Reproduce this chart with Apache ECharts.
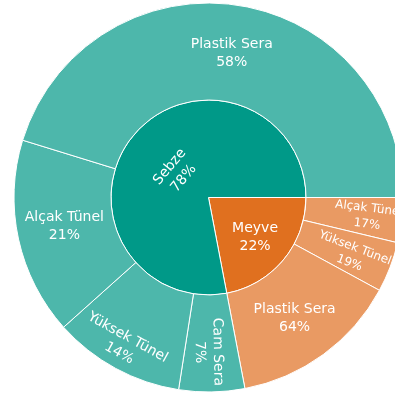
<!DOCTYPE html>
<html>
<head>
<meta charset="utf-8">
<script src="https://cdn.jsdelivr.net/npm/echarts@6/dist/echarts.min.js"></script>
<style>
  html, body { margin: 0; padding: 0; background: #ffffff; }
  #chart { width: 395px; height: 397px; }
</style>
</head>
<body>
<div id="chart"></div>
<script>
// Main groups and their shares (%)
const groups = ['Meyve', 'Sebze'];
const groupShares = [22, 78];

// Sub-categories per group, with share of their parent group (%)
const meyveCats = ['Alçak Tünel', 'Yüksek Tünel', 'Plastik Sera'];
const meyveShares = [17, 19, 64];
const sebzeCats = ['Cam Sera', 'Yüksek Tünel', 'Alçak Tünel', 'Plastik Sera'];
const sebzeShares = [7, 14, 21, 58];

// Label rotation (degrees) for each slice
const groupRotate = [0, 50];
const meyveRotate = [-7, -21, 0];
const sebzeRotate = [-89, -29, 0, 0];

// Label nudges in the label's own frame: [dx, dy] in px
const groupNudge = [[9, 8.5], [-1, 8.5]];
const meyveNudge = [[14.5, 0], [9, 2.7], [0, 3]];
const sebzeNudge = [[8.5, 2.5], [-4, 24.6], [-1.5, -2.2], [1.5, 0]];

const groupColors = ['#E0701F', '#009988'];
const childColors = ['#E99A63', '#4DB7AB'];

const childCats = [meyveCats, sebzeCats];
const childShares = [meyveShares, sebzeShares];
const childRotate = [meyveRotate, sebzeRotate];
const childNudge = [meyveNudge, sebzeNudge];

// Horizontal nudge via side padding, vertical nudge via a spacer line
function labelFor(rotate, nudge, size) {
  const dx = nudge[0], dy = nudge[1];
  return {
    rotate: rotate,
    fontSize: size,
    lineHeight: size + 4,
    padding: [0, dx < 0 ? -2 * dx : 0, 0, dx > 0 ? 2 * dx : 0],
    rich: { g: { fontSize: 1, lineHeight: Math.max(1, Math.abs(2 * dy)) } },
    gap: dy
  };
}

const data = groups.map((g, gi) => ({
  name: g,
  pct: groupShares[gi],
  gap: groupNudge[gi][1],
  itemStyle: { color: groupColors[gi] },
  label: labelFor(groupRotate[gi], groupNudge[gi], 14),
  children: childCats[gi].map((c, ci) => ({
    name: c,
    pct: childShares[gi][ci],
    gap: childNudge[gi][ci][1],
    value: groupShares[gi] * childShares[gi][ci] / 100,
    itemStyle: { color: childColors[gi] },
    label: labelFor(childRotate[gi][ci], childNudge[gi][ci], (gi === 0 && ci < 2) ? 12 : 14)
  }))
}));

const chart = echarts.init(document.getElementById('chart'));
chart.setOption({
  animation: false,
  series: [{
    type: 'sunburst',
    center: [208.5, 197.5],
    radius: [0, 194.5],
    startAngle: 0,
    sort: null,
    nodeClick: false,
    data: data,
    itemStyle: { borderColor: '#ffffff', borderWidth: 1 },
    label: {
      rotate: 0,
      fontSize: 14,
      fontFamily: 'DejaVu Sans',
      color: '#ffffff',
      lineHeight: 18,
      formatter: p => {
        const body = p.name + '\n' + p.data.pct + '%';
        const gap = p.data.gap || 0;
        if (gap > 0.5) return '{g| }\n' + body;
        if (gap < -0.5) return body + '\n{g| }';
        return body;
      }
    },
    levels: [{}, { r0: 0, r: 97.5 }, { r0: 97.5, r: 194.5 }]
  }]
});
</script>
</body>
</html>
